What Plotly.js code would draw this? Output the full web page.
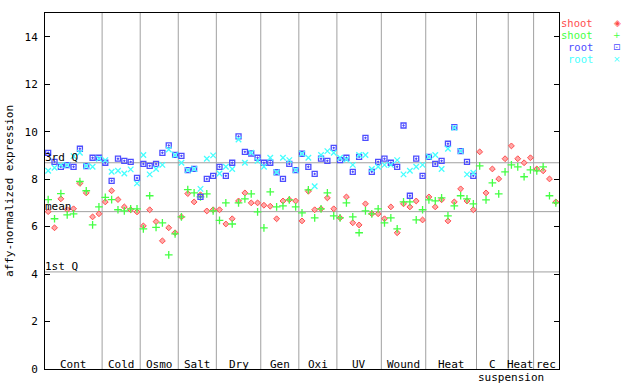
<!DOCTYPE html>
<html>
<head>
<meta charset="utf-8">
<script src="https://cdn.plot.ly/plotly-3.0.1.min.js"></script>
<style>html,body{margin:0;padding:0;background:#fff;}#chart{width:640px;height:384px;}</style>
</head>
<body>
<div id="chart"></div>
<script>
// ---- data ----
const categories = ['Cont','Cold','Osmo','Salt','Dry','Gen','Oxi','UV','Wound','Heat','C suspension','Heat','rec'];
const categoryCounts = [9,6,6,6,7,6,6,7,7,8,5,4,4];

const shootA = [
  6.63,5.95,7.17,6.72,6.75,7.82,7.42,6.41,6.54,
  7.04,7.51,7.14,6.83,6.71,6.62,
  6.03,6.71,6.21,5.40,5.95,5.74,
  6.41,7.39,7.04,7.34,6.66,6.71,
  6.71,6.11,6.33,7.08,7.42,7.00,7.00,
  6.90,6.86,6.33,7.08,7.13,7.08,
  6.24,7.49,6.71,6.75,7.21,6.75,
  6.37,7.25,6.16,6.07,6.96,6.54,6.54,
  6.33,6.83,5.74,6.96,6.83,7.08,6.28,
  7.25,6.83,7.13,6.24,7.04,7.59,7.08,6.71,
  9.15,7.42,8.43,8.01,8.86,
  9.40,8.86,8.69,8.90,
  8.43,8.35,8.01,7.04
];
const shootB = [
  7.14,6.33,7.39,6.49,6.54,7.90,7.51,6.07,6.83,
  7.23,7.14,6.71,6.66,6.75,6.75,
  5.90,7.30,5.97,6.16,4.81,5.69,
  6.41,7.56,7.42,7.25,7.38,6.66,
  6.26,7.00,6.11,7.00,7.17,7.38,6.62,
  5.95,7.46,6.83,6.87,7.13,6.83,
  6.58,7.55,6.37,6.75,7.42,6.45,
  6.37,7.00,6.41,5.74,6.66,6.54,6.75,
  6.16,6.37,5.90,7.04,7.04,6.28,6.71,
  7.13,7.08,7.21,6.45,6.87,7.30,7.17,6.96,
  8.56,7.13,7.84,7.38,8.31,
  8.60,8.52,8.10,8.39,
  8.35,8.52,7.30,7.00
];
const rootA = [
  9.11,8.73,8.52,8.59,8.52,9.28,8.55,8.90,8.90,
  8.69,7.93,8.86,8.77,8.73,8.05,
  8.64,8.56,8.64,9.11,9.42,9.02,
  8.98,8.38,8.43,7.25,8.01,8.14,
  8.52,8.14,8.69,9.80,9.15,9.08,8.90,
  8.69,8.69,8.29,8.01,8.64,8.38,
  9.07,8.52,8.22,8.86,8.77,9.32,
  8.80,8.90,8.31,8.94,9.74,8.31,8.73,
  8.86,8.69,8.52,10.26,7.30,8.86,8.14,
  8.94,8.64,8.77,9.49,10.19,9.18,8.73,8.14
];
const rootB = [
  8.35,8.48,8.59,8.59,8.97,9.11,8.55,8.52,8.86,
  8.80,8.31,8.35,8.24,8.41,7.82,
  9.02,8.20,8.43,8.60,9.25,9.02,
  8.69,8.38,8.43,7.59,8.86,9.00,
  8.24,8.52,8.43,9.67,8.69,9.11,8.77,
  8.52,8.90,8.29,8.90,8.80,8.38,
  9.07,8.90,7.70,9.02,9.18,9.11,
  8.90,8.83,8.60,9.02,9.02,8.43,8.52,
  8.60,8.60,8.80,8.20,8.35,8.52,8.60,
  8.94,9.02,8.43,9.28,10.16,9.18,8.20,8.27
];
const refLineNames = ['3rd Q','mean','1st Q'];
const refLineValues = [8.69, 6.63, 4.09];
const yTickValues = [0,2,4,6,8,10,12,14];
const seriesNames = ['shoot','shoot','root','root'];

// ---- layout helpers ----
const FONT = 'DejaVu Sans Mono, Liberation Mono, monospace';
const M = {l:45, r:81, t:13, b:15};
const W = 640, H = 384;
const PW = W - M.l - M.r, PH = H - M.t - M.b;
const pxX = px => (px - M.l) / PW;
const pxY = py => (H - M.b - py) / PH;

const colors = ['#ff4d4d','#44ff44','#4d4dff','#44ffff'];
const nTotal = categoryCounts.reduce((a,b)=>a+b,0);
const idx = n => Array.from({length:n}, (_,i)=>i);

const traces = [
  {x: idx(shootA.length), y: shootA, type:'scatter', mode:'markers', name:seriesNames[0],
   marker:{symbol:'diamond', size:4.5, color:'#ffa8a8', line:{color:colors[0], width:1}}},
  {x: idx(shootB.length), y: shootB, type:'scatter', mode:'markers', name:seriesNames[1],
   marker:{symbol:'cross-thin-open', size:5.5, color:colors[1], line:{color:colors[1], width:1.3}}},
  {x: idx(rootA.length), y: rootA, type:'scatter', mode:'markers', name:seriesNames[2],
   marker:{symbol:'square-open-dot', size:5, color:colors[2], line:{color:colors[2], width:1.3}}},
  {x: idx(rootB.length), y: rootB, type:'scatter', mode:'markers', name:seriesNames[3],
   marker:{symbol:'x-thin-open', size:5.5, color:colors[3], line:{color:colors[3], width:1.3}}}
];

const shapes = [];
const annotations = [];
let cum = 0;
categories.forEach((c, k) => {
  const start = cum - 0.5, end = cum + categoryCounts[k] - 0.5;
  cum += categoryCounts[k];
  if (k < categories.length - 1) {
    shapes.push({type:'line', xref:'x', yref:'paper', x0:end, x1:end, y0:0, y1:1,
      line:{color:'#a0a0a0', width:1}, layer:'below'});
  }
  const center = (start + end) / 2;
  const parts = c.split(' ');
  annotations.push({x:center, y:0, xref:'x', yref:'y', text:parts[0], showarrow:false,
    xanchor:'center', yanchor:'middle', yshift:5, font:{family:FONT, size:11, color:'#000'}});
  if (parts.length > 1) {
    annotations.push({x:center + 3, y:0, xref:'x', yref:'y', text:parts.slice(1).join(' '), showarrow:false,
      xanchor:'center', yanchor:'middle', yshift:-8, font:{family:FONT, size:11, color:'#000'}});
  }
});
refLineValues.forEach((v, k) => {
  shapes.push({type:'line', xref:'paper', yref:'y', x0:0, x1:1, y0:v, y1:v,
    line:{color:'#a0a0a0', width:1}, layer:'below'});
  annotations.push({x:0, y:v, xref:'paper', yref:'y', text:refLineNames[k], showarrow:false,
    xanchor:'left', yanchor:'bottom', yshift:-3, xshift:-2, font:{family:FONT, size:11, color:'#000'}});
});

// legend (text right-aligned, symbol to the right)
const legendGlyphs = ['◈','+','⊡','×'];
seriesNames.forEach((s, k) => {
  const py = 23 + 12 * k;
  annotations.push({x:pxX(594), y:pxY(py), xref:'paper', yref:'paper', text:s, showarrow:false,
    xanchor:'right', yanchor:'middle', borderpad:0, font:{family:FONT, size:10.5, color:colors[k]}});
  annotations.push({x:pxX(617), y:pxY(py), xref:'paper', yref:'paper', text:legendGlyphs[k], showarrow:false,
    xanchor:'center', yanchor:'middle', borderpad:0, font:{family:'DejaVu Sans', size:9, color:colors[k]}});
});

const layout = {
  width: W, height: H,
  margin: M,
  paper_bgcolor:'#fff', plot_bgcolor:'#fff',
  showlegend:false,
  font:{family:FONT, size:11, color:'#000'},
  xaxis:{range:[-0.5, nTotal - 0.5], showticklabels:false, ticks:'', showgrid:false, zeroline:false,
    showline:true, mirror:true, linecolor:'#000', linewidth:1, fixedrange:true},
  yaxis:{range:[0,15], tickvals:yTickValues, ticks:'inside', ticklen:5, tickcolor:'#000', mirror:'ticks',
    showline:true, linecolor:'#000', linewidth:1, showgrid:false, zeroline:false,
    ticklabelstandoff:4,
    tickfont:{family:FONT, size:11, color:'#000'},
    title:{text:'affy-normalized expression', font:{family:FONT, size:11, color:'#000'}, standoff:8}},
  shapes: shapes,
  annotations: annotations
};

Plotly.newPlot('chart', traces, layout, {displayModeBar:false, staticPlot:true});
</script>
</body>
</html>
